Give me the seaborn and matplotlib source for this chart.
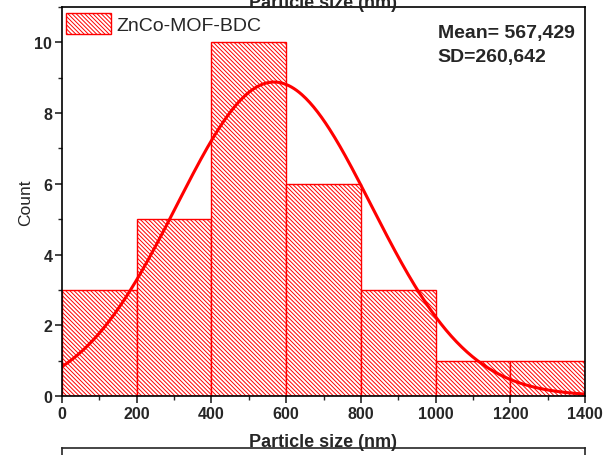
import numpy as np
import pandas as pd
import seaborn as sns
import matplotlib.pyplot as plt
from matplotlib.patches import Patch
from matplotlib.ticker import MultipleLocator

bin_edges = [0, 200, 400, 600, 800, 1000, 1200, 1400]
counts = [3, 5, 10, 6, 3, 1, 1]
mean_nm = 567.429
sd_nm = 260.642
sample_label = "ZnCo-MOF-BDC"

sns.set_style("ticks")
plt.rcParams['font.family'] = ['Liberation Sans', 'DejaVu Sans']
plt.rcParams['hatch.color'] = 'red'
plt.rcParams['hatch.linewidth'] = 0.7

hatch = '\\' * 8

centers = [(a + b) / 2 for a, b in zip(bin_edges[:-1], bin_edges[1:])]
df = pd.DataFrame({"size": centers, "count": counts})

fig = plt.figure(figsize=(6.05, 4.56), dpi=100)
ax = fig.add_axes([0.1025, 0.1294, 0.8645, 0.8531])

sns.histplot(data=df, x="size", weights="count", bins=bin_edges, ax=ax,
             facecolor="white", edgecolor="red", linewidth=1.0, alpha=1)
for p in ax.patches:
    p.set_hatch(hatch)

# normal fit curve scaled to counts
xs = np.linspace(0, 1400, 400)
width = bin_edges[1] - bin_edges[0]
ys = sum(counts) * width / (sd_nm * np.sqrt(2 * np.pi)) * np.exp(-0.5 * ((xs - mean_nm) / sd_nm) ** 2)
sns.lineplot(x=xs, y=ys, ax=ax, color="red", linewidth=2.2)

ax.set_xlim(0, 1400)
ax.set_ylim(0, 11)
ax.xaxis.set_major_locator(MultipleLocator(200))
ax.xaxis.set_minor_locator(MultipleLocator(100))
ax.yaxis.set_major_locator(MultipleLocator(2))
ax.yaxis.set_minor_locator(MultipleLocator(1))
ax.tick_params(which='major', direction='out', length=5, width=1.2, labelsize=11.5, pad=2)
ax.tick_params(which='minor', direction='out', length=3, width=1.0)
for lab in ax.get_xticklabels() + ax.get_yticklabels():
    lab.set_fontweight('bold')
for s in ax.spines.values():
    s.set_linewidth(1.2)
    s.set_color('black')

ax.set_xlabel("")
ax.set_ylabel("Count", fontsize=12.5, labelpad=1)

handle = Patch(facecolor="white", edgecolor="red", hatch=hatch, linewidth=1.0)
ax.legend([handle], [sample_label], loc="upper left", bbox_to_anchor=(0.0, 0.995),
          frameon=False, fontsize=14, handlelength=2.3, handleheight=1.3,
          borderaxespad=0.1, borderpad=0.1, handletextpad=0.3)

ax.text(0.718, 0.955, "Mean= 567,429\nSD=260,642", transform=ax.transAxes,
        fontsize=14, fontweight='bold', va='top', ha='left', linespacing=1.5)

# cropped axis titles from neighbouring panels
fig.text(0.534, 0.983, "Particle size (nm)", fontsize=13, fontweight='bold',
         ha='center', va='baseline')
fig.text(0.534, 0.02, "Particle size (nm)", fontsize=13, fontweight='bold',
         ha='center', va='baseline')
ax2 = fig.add_axes([0.1025, -0.5, 0.8645, 0.515])
ax2.set_xticks([])
ax2.set_yticks([])
for s in ax2.spines.values():
    s.set_linewidth(1.2)

fig.savefig("out.png", dpi=100)
